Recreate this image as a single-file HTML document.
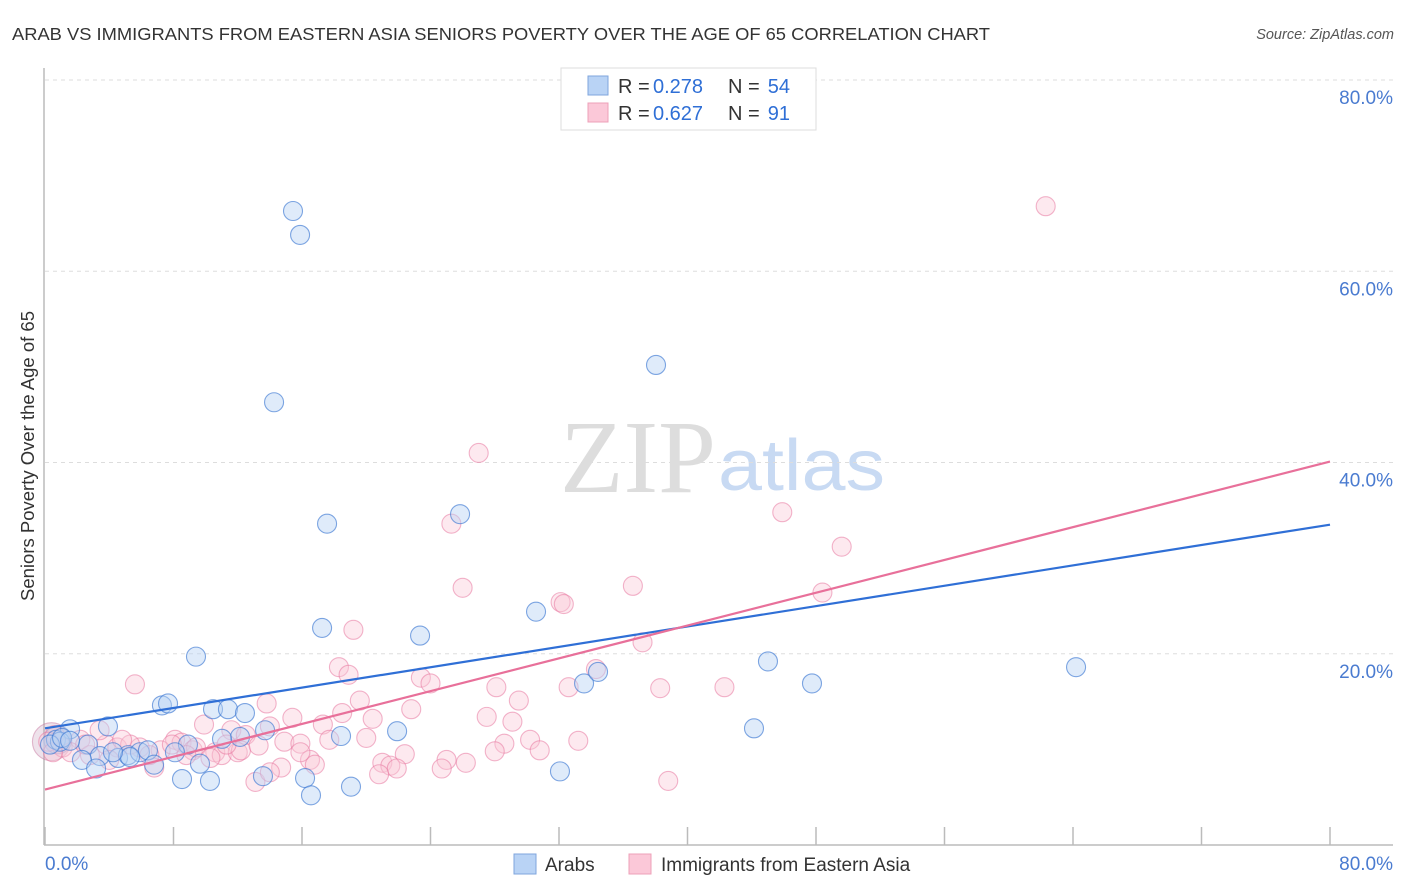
<!DOCTYPE html>
<html><head><meta charset="utf-8">
<style>
body{margin:0;background:#fff;font-family:"Liberation Sans",sans-serif;}
#wrap{position:relative;width:1406px;height:892px;overflow:hidden;}
</style></head>
<body>
<div id="wrap">
<svg id="svg" width="1406" height="892" xmlns="http://www.w3.org/2000/svg">
<text x="12" y="40" font-size="17.5" fill="#333" textLength="978" lengthAdjust="spacingAndGlyphs">ARAB VS IMMIGRANTS FROM EASTERN ASIA SENIORS POVERTY OVER THE AGE OF 65 CORRELATION CHART</text>
<text x="1394" y="39" font-size="14.5" fill="#555" font-style="italic" text-anchor="end">Source: ZipAtlas.com</text>
<text x="716" y="492" font-size="104" fill="#ddd" text-anchor="end" font-family="Liberation Serif,serif">ZIP</text>
<text x="718" y="490" font-size="72" fill="#c8daf3" textLength="167" lengthAdjust="spacingAndGlyphs">atlas</text>
<g id="grid"></g>
<g id="axes"></g>
<g id="pts"></g>
<g id="lines"></g>
<text x="34" y="456" font-size="18.5" fill="#333" text-anchor="middle" transform="rotate(-90 34 456)">Seniors Poverty Over the Age of 65</text>
<text x="45" y="870" font-size="19" fill="#4a7bd0">0.0%</text>
<text x="1393" y="870" font-size="19" fill="#4a7bd0" text-anchor="end">80.0%</text>
<g>
<rect x="514" y="854" width="22" height="20" fill="#b9d3f5" stroke="#7fa6dd"/>
<text x="545" y="871" font-size="19" fill="#333">Arabs</text>
<rect x="629" y="854" width="22" height="20" fill="#fbc8d8" stroke="#eea0b8"/>
<text x="661" y="871" font-size="19" fill="#333">Immigrants from Eastern Asia</text>
</g>
<g>
<rect x="561" y="68" width="255" height="62" fill="#fff" stroke="#ddd"/>
<rect x="588" y="76" width="20" height="19" fill="#b9d3f5" stroke="#7fa6dd"/>
<rect x="588" y="103" width="20" height="19" fill="#fbc8d8" stroke="#eea0b8"/>
<text x="618" y="93" font-size="20" fill="#333">R =</text>
<text x="653" y="93" font-size="20" fill="#2f6fd6">0.278</text>
<text x="728" y="93" font-size="20" fill="#333">N =</text>
<text x="790" y="93" font-size="20" fill="#2f6fd6" text-anchor="end">54</text>
<text x="618" y="120" font-size="20" fill="#333">R =</text>
<text x="653" y="120" font-size="20" fill="#2f6fd6">0.627</text>
<text x="728" y="120" font-size="20" fill="#333">N =</text>
<text x="790" y="120" font-size="20" fill="#2f6fd6" text-anchor="end">91</text>
</g>
</svg>
</div>
<script>
const yTicks=[20,40,60,80];
const yTickLabels=["20.0%","40.0%","60.0%","80.0%"];
const xTicks=[0,8,16,24,32,40,48,56,64,72,80];
const arabX=[15.44,15.88,14.26,38.04,17.56,25.84,17.25,23.35,30.57,9.40,45.01,64.19,47.75,33.56,34.43,7.28,7.66,10.46,11.39,12.45,3.92,1.56,13.70,12.14,21.92,18.43,44.14,11.02,8.90,0.68,0.93,0.31,2.68,3.42,4.55,5.17,5.91,6.41,8.09,2.30,3.18,9.65,6.79,8.53,10.27,13.57,16.19,16.56,19.05,32.06,5.29,1.06,1.56,4.23];
const arabY=[66.3,63.8,46.3,50.2,33.6,34.6,22.7,21.9,24.4,19.7,19.2,18.6,16.9,16.9,18.1,14.6,14.8,14.2,14.2,13.8,12.4,12.1,12.0,11.3,11.9,11.4,12.2,11.1,10.5,11.0,10.8,10.5,10.5,9.3,9.1,9.4,9.7,9.9,9.7,8.9,8.0,8.5,8.4,6.9,6.7,7.2,7.0,5.2,6.1,7.7,9.2,11.2,10.9,9.7];
const asiaX=[62.3,27.0,25.3,45.9,49.6,26.0,36.6,32.1,32.3,48.4,37.2,19.2,18.3,18.9,5.6,23.4,24.0,28.1,34.3,32.6,38.3,42.3,29.5,13.8,19.6,15.4,27.5,20.4,22.8,11.6,14.0,9.9,17.3,18.5,29.1,33.2,8.1,8.5,12.5,14.9,15.9,17.7,20.0,28.6,30.2,30.8,28.0,22.4,25.0,26.2,21.0,21.5,21.9,20.8,24.7,16.5,16.8,14.7,13.1,6.8,3.8,4.5,5.9,7.2,9.2,10.6,11.0,9.4,12.0,5.3,3.4,2.2,1.1,1.6,2.8,4.0,0.6,38.8,14.0,10.3,12.2,15.9,4.8,6.5,2.5,0.2,0.5,7.9,8.8,11.3,13.3];
const asiaY=[66.8,41.0,33.6,34.8,31.2,26.9,27.1,25.4,25.2,26.4,21.2,22.5,18.6,17.8,16.8,17.5,16.9,16.5,18.4,16.5,16.4,16.5,15.1,14.8,15.1,13.3,13.4,13.2,14.2,12.0,12.4,12.6,12.6,13.8,12.9,10.9,11.0,10.7,11.5,10.8,10.6,11.0,11.2,10.6,11.0,9.9,9.8,9.5,8.9,8.6,8.6,8.3,8.0,7.4,8.0,8.9,8.4,8.1,6.6,8.1,10.5,10.2,10.2,9.9,9.9,9.7,9.4,10.2,9.7,10.5,12.0,11.0,10.2,9.7,9.4,8.9,11.5,6.7,7.6,9.1,9.9,9.7,11.0,9.4,10.5,10.8,9.7,10.5,9.4,10.5,10.4];
const arabTrend=[12.2,33.5];
const asiaTrend=[5.8,40.1];
const NS="http://www.w3.org/2000/svg";
const X=v=>45+v*(1285/80), Y=v=>845-v*(765/80);
function mk(t,a,p){const e=document.createElementNS(NS,t);for(const k in a)e.setAttribute(k,a[k]);document.getElementById(p).appendChild(e);return e;}
yTicks.forEach((t,i)=>{
 const l=mk('line',{x1:45,x2:1393,y1:Y(t),y2:Y(t),stroke:'#ddd','stroke-dasharray':'4,4'},'grid');
 
 
 const tx=mk('text',{x:1393,y:Y(t)+24,'font-size':19,fill:'#4a7bd0','text-anchor':'end'},'grid');
 tx.textContent=yTickLabels[i];
 
 
});
const ax=mk('line',{x1:44,x2:1393,y1:845,y2:845,stroke:'#bbb','stroke-width':1.5},'axes');


const ay=mk('line',{x1:44,x2:44,y1:68,y2:845,stroke:'#bbb','stroke-width':1.5},'axes');


xTicks.forEach(t=>{const l=mk('line',{x1:X(t),x2:X(t),y1:827,y2:845,stroke:'#bbb','stroke-width':1.5},'axes');
 
 });
function dot(x,y,r,f,s,n){const c=mk('circle',{cx:X(x),cy:Y(y),r:r,fill:f,stroke:s,'stroke-width':1.1},'pts');
 
 }
dot(0.4,10.8,19,'rgba(200,160,190,0.3)','rgba(200,120,160,0.5)','asia-point-large');
dot(0.8,11.0,14,'rgba(150,170,210,0.3)','rgba(80,120,200,0.5)','arab-point-large');
asiaX.forEach((x,i)=>dot(x,asiaY[i],9.5,'rgba(251,200,216,0.4)','rgba(232,120,160,0.55)','asia-point'));
arabX.forEach((x,i)=>dot(x,arabY[i],9.5,'rgba(185,211,245,0.45)','rgba(60,120,210,0.65)','arab-point'));
const l1=mk('line',{x1:X(0),y1:Y(arabTrend[0]),x2:X(80),y2:Y(arabTrend[1]),stroke:'#2f6fd6','stroke-width':2.2},'lines');


const l2=mk('line',{x1:X(0),y1:Y(asiaTrend[0]),x2:X(80),y2:Y(asiaTrend[1]),stroke:'#e8709a','stroke-width':2.2},'lines');


</script>
</body></html>
